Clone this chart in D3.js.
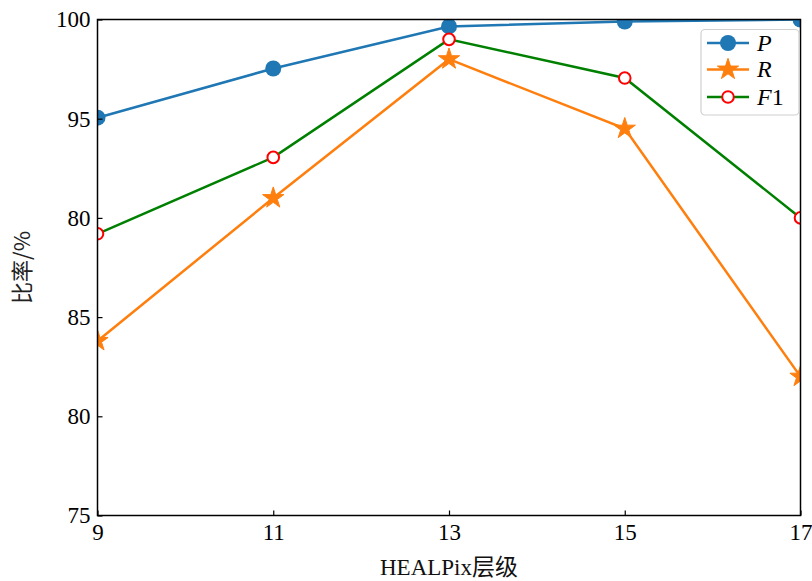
<!DOCTYPE html>
<html><head><meta charset="utf-8">
<script src="https://cdn.jsdelivr.net/npm/d3@7"></script>
<style>body{margin:0;background:#fff}svg{display:block}</style>
</head><body>
<script>
const levels = [9, 11, 13, 15, 17];
const seriesP = [95.05, 97.53, 99.65, 99.9, 100.0];
const seriesR = [83.8, 91.0, 98.0, 94.5, 82.0];
const seriesF1 = [89.2, 93.05, 99.0, 97.05, 90.0];
const yTicks = [100, 95, 90, 85, 80, 75];
const yTickLabels = ["100", "95", "80", "85", "80", "75"];
const xTicks = [9, 11, 13, 15, 17];
const seriesNames = ["P", "R", "F1"];

const W = 812, H = 581;
const m = {left: 97.5, right: 11.5, top: 19.5, bottom: 65.5};
const svg = d3.select("body").append("svg").attr("width", W).attr("height", H);
const x = d3.scaleLinear().domain([9, 17]).range([m.left, W - m.right]);
const y = d3.scaleLinear().domain([75, 100]).range([H - m.bottom, m.top]);
const serif = "'Liberation Serif','DejaVu Serif',serif";

svg.append("clipPath").attr("id", "clip").append("rect")
  .attr("x", m.left).attr("y", m.top).attr("width", x(17) - x(9)).attr("height", y(75) - y(100));

const series = [
  {name: "P", vals: seriesP, color: "#1f77b4", marker: "circle"},
  {name: "R", vals: seriesR, color: "#ff7f0e", marker: "star"},
  {name: "F1", vals: seriesF1, color: "green", marker: "open"}
];

const line = d3.line().x((d, i) => x(levels[i])).y(d => y(d));
const starPath = d3.symbol().type(d3.symbolStar).size(140)();

function drawMarker(g, s, cx, cy) {
  if (s.marker === "circle") {
    g.append("circle").attr("cx", cx).attr("cy", cy).attr("r", 8).attr("fill", s.color);
  } else if (s.marker === "star") {
    g.append("path").attr("d", starPath).attr("transform", `translate(${cx},${cy})`)
      .attr("fill", s.color).attr("stroke", s.color).attr("stroke-width", 1);
  } else {
    g.append("circle").attr("cx", cx).attr("cy", cy).attr("r", 5.8)
      .attr("fill", "#fff").attr("stroke", "red").attr("stroke-width", 2);
  }
}

const plot = svg.append("g").attr("clip-path", "url(#clip)");
series.forEach(s => {
  const g = plot.append("g");
  g.append("path").attr("d", line(s.vals)).attr("fill", "none")
    .attr("stroke", s.color).attr("stroke-width", 2.5);
  s.vals.forEach((v, i) => drawMarker(g, s, x(levels[i]), y(v)));
});

// axes
const yAxis = d3.axisLeft(y).tickValues(yTicks)
  .tickFormat((d, i) => yTickLabels[i]).tickSizeInner(-5).tickSizeOuter(0).tickPadding(7);
const xAxis = d3.axisBottom(x).tickValues(xTicks)
  .tickFormat(d3.format("d")).tickSizeInner(-5).tickSizeOuter(0).tickPadding(8);
const ya = svg.append("g").attr("transform", `translate(${m.left},0)`).call(yAxis);
const xa = svg.append("g").attr("transform", `translate(0,${H - m.bottom})`).call(xAxis);
[ya, xa].forEach(a => {
  a.select(".domain").remove();
  a.selectAll("line").attr("stroke", "#000").attr("stroke-width", 1.2);
  a.selectAll("text").attr("font-family", serif).attr("font-size", 23).attr("fill", "#000");
});

svg.append("rect").attr("x", m.left).attr("y", m.top)
  .attr("width", x(17) - x(9)).attr("height", y(75) - y(100))
  .attr("fill", "none").attr("stroke", "#000").attr("stroke-width", 1.5);

// axis titles
svg.append("text").attr("x", (x(9) + x(17)) / 2).attr("y", 575).attr("text-anchor", "middle")
  .attr("font-family", serif + ",'Noto Sans CJK SC'").attr("font-size", 23).attr("fill", "#111")
  .text("HEALPix层级");
svg.append("text").attr("transform", `translate(30,${(y(75) + y(100)) / 2}) rotate(-90)`)
  .attr("text-anchor", "middle")
  .attr("font-family", "'Noto Sans CJK SC'," + serif).attr("font-size", 22).attr("fill", "#222")
  .text("比率/%");

// legend
const lg = svg.append("g");
lg.append("rect").attr("x", 701).attr("y", 29.5).attr("width", 98).attr("height", 85.5)
  .attr("rx", 4).attr("fill", "#fff").attr("fill-opacity", 0.85)
  .attr("stroke", "#d0d0d0").attr("stroke-width", 1.2);
const legY = [43, 69.5, 97];
series.forEach((s, i) => {
  const cy = legY[i];
  lg.append("line").attr("x1", 707).attr("x2", 749).attr("y1", cy).attr("y2", cy)
    .attr("stroke", s.color).attr("stroke-width", 2.5);
  drawMarker(lg, s, 728, cy);
  const t = lg.append("text").attr("x", 757).attr("y", cy + 7.5)
    .attr("font-family", serif).attr("font-size", 24).attr("fill", "#000");
  if (s.name === "F1") {
    t.append("tspan").attr("font-style", "italic").text("F");
    t.append("tspan").text("1");
  } else {
    t.append("tspan").attr("font-style", "italic").text(seriesNames[i]);
  }
});
</script>
</body></html>
